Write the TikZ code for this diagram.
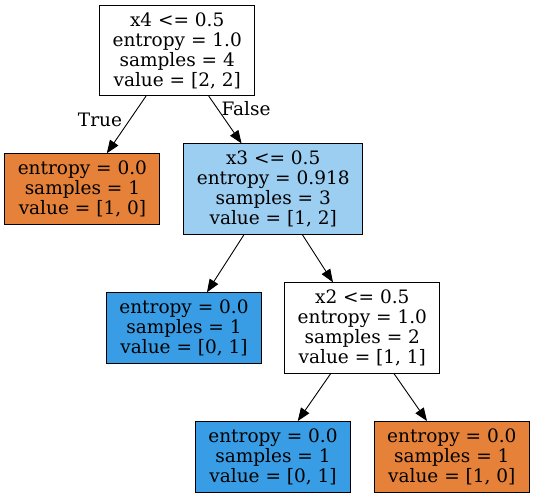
\documentclass[tikz,border=0pt]{standalone}
\usepackage{fontspec}
\setmainfont{DejaVu Serif}
\usetikzlibrary{arrows.meta}
\definecolor{orng}{HTML}{E58139}
\definecolor{lblue}{HTML}{9CCEF2}
\definecolor{dblue}{HTML}{399DE5}
\begin{document}
\begin{tikzpicture}[x=1pt,y=-1pt,
  box/.style={draw=black, line width=0.9pt, rectangle, align=center, inner sep=0pt, font=\fontsize{18.5}{20}\selectfont},
  big/.style={box, minimum width=155pt, minimum height=90.5pt},
  leaf/.style={box, minimum width=155pt, minimum height=70.5pt},
  edge/.style={-{Triangle[length=13pt,width=10pt]}, line width=0.9pt},
  lbl/.style={inner sep=0pt, font=\fontsize{18.5}{20}\selectfont}]
\useasboundingbox (0,0) rectangle (535,497);
\node[big] (root) at (177.2,50.5) {x4 <= 0.5\\entropy = 1.0\\samples = 4\\value = [2, 2]};
\node[leaf, fill=orng] (l1) at (82.4,189) {entropy = 0.0\\samples = 1\\value = [1, 0]};
\node[big, fill=lblue, minimum width=179pt] (r1) at (273.2,189.2) {x3 <= 0.5\\entropy = 0.918\\samples = 3\\value = [1, 2]};
\node[leaf, fill=dblue] (l2) at (184,328) {entropy = 0.0\\samples = 1\\value = [0, 1]};
\node[big] (r2) at (362.3,328) {x2 <= 0.5\\entropy = 1.0\\samples = 2\\value = [1, 1]};
\node[leaf, fill=dblue] (l3) at (273,456.7) {entropy = 0.0\\samples = 1\\value = [0, 1]};
\node[leaf, fill=orng] (r3) at (451.8,456.7) {entropy = 0.0\\samples = 1\\value = [1, 0]};
\draw[edge] (root) -- (l1);
\draw[edge] (root) -- (r1);
\draw[edge] (r1) -- (l2);
\draw[edge] (r1) -- (r2);
\draw[edge] (r2) -- (l3);
\draw[edge] (r2) -- (r3);
\node[lbl] (t) at (100,120) {True};
\node[lbl] (f) at (246,109) {False};
\end{tikzpicture}
\end{document}
